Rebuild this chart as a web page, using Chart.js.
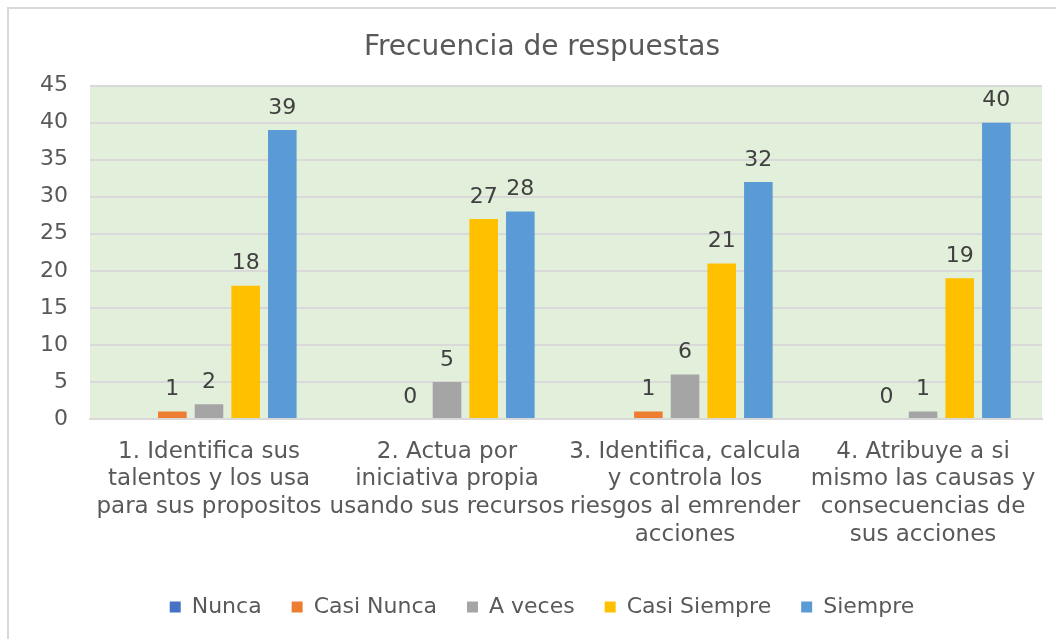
<!DOCTYPE html>
<html>
<head>
<meta charset="utf-8">
<script src="https://cdn.jsdelivr.net/npm/chart.js@4/dist/chart.umd.min.js"></script>
<style>
  html, body { margin: 0; padding: 0; background: #fff; overflow: hidden; }
  #frame { position: absolute; left: 7px; top: 7px; width: 1100px; height: 700px; border: 2px solid #d9d9d9; }
  #myChart { position: absolute; left: 0; top: 0; }
</style>
</head>
<body>
<div id="frame"></div>
<canvas id="myChart" width="1056" height="639"></canvas>
<script>
// data
const categories = [
  ["1. Identifica sus", "talentos y los usa", "para sus propositos"],
  ["2. Actua por", "iniciativa propia", "usando sus recursos"],
  ["3. Identifica, calcula", "y controla los", "riesgos al emrender", "acciones"],
  ["4. Atribuye a si", "mismo las causas y", "consecuencias de", "sus acciones"]
];
const seriesNames = ["Nunca", "Casi Nunca", "A veces", "Casi Siempre", "Siempre"];
const nunca = [null, null, null, null];
const casiNunca = [1, 0, 1, 0];
const aVeces = [2, 5, 6, 1];
const casiSiempre = [18, 27, 21, 19];
const siempre = [39, 28, 32, 40];
const yTicks = [0, 5, 10, 15, 20, 25, 30, 35, 40, 45];

const colors = ["#4472C4", "#ED7D31", "#A5A5A5", "#FFC000", "#5B9BD5"];
const values = [nunca, casiNunca, aVeces, casiSiempre, siempre];
const FONT = "'DejaVu Sans', Verdana, sans-serif";

// green plot background
const plotBg = {
  id: "plotBg",
  beforeDraw(chart) {
    const a = chart.chartArea;
    const ctx = chart.ctx;
    ctx.save();
    ctx.fillStyle = "#E2EFDA";
    ctx.fillRect(a.left, a.top, a.right - a.left, a.bottom - a.top);
    ctx.restore();
  }
};

// value labels above the bars
const barLabels = {
  id: "barLabels",
  afterDatasetsDraw(chart) {
    const ctx = chart.ctx;
    ctx.save();
    ctx.font = "22px " + FONT;
    ctx.fillStyle = "#404040";
    ctx.textAlign = "center";
    ctx.textBaseline = "middle";
    chart.data.datasets.forEach(function(ds, i) {
      chart.getDatasetMeta(i).data.forEach(function(bar, j) {
        const v = ds.data[j];
        if (v === null || v === undefined) return;
        ctx.fillText(String(v), bar.x, bar.y - 22);
      });
    });
    ctx.restore();
  }
};

const ctx = document.getElementById("myChart");
const myChart = new Chart(ctx, {
  type: "bar",
  data: {
    labels: categories,
    datasets: seriesNames.map(function(name, i) {
      return {
        label: name,
        data: values[i],
        backgroundColor: colors[i],
        borderWidth: 0,
        barPercentage: 0.78,
        categoryPercentage: 0.77
      };
    })
  },
  options: {
    responsive: false,
    animation: false,
    devicePixelRatio: 1,
    layout: { padding: { left: 41, right: 13, top: 0, bottom: 11 } },
    plugins: {
      title: {
        display: true,
        text: "Frecuencia de respuestas",
        color: "#595959",
        font: { family: FONT, size: 28, weight: "normal" },
        padding: { top: 31, bottom: 21 }
      },
      legend: {
        position: "bottom",
        labels: {
          color: "#595959",
          font: { family: FONT, size: 22 },
          boxWidth: 11,
          boxHeight: 11,
          padding: 30
        }
      },
      tooltip: { enabled: false }
    },
    scales: {
      x: {
        grid: { display: false, drawTicks: false },
        border: { display: true, color: "#D9D9D9", width: 2 },
        ticks: {
          color: "#595959",
          font: { family: FONT, size: 23, lineHeight: 1.2 },
          padding: 19,
          maxRotation: 0,
          autoSkip: false
        },
        afterFit: function(scale) { scale.height = 147; }
      },
      y: {
        min: 0,
        max: 45,
        afterBuildTicks: function(scale) {
          scale.ticks = yTicks.map(function(v) { return { value: v }; });
        },
        grid: { color: "#D9D9D9", lineWidth: 2, drawTicks: false },
        border: { display: false },
        ticks: {
          color: "#595959",
          font: { family: FONT, size: 22 },
          padding: 22
        },
        afterFit: function(scale) { scale.width = 49; }
      }
    }
  },
  plugins: [plotBg, barLabels]
});
</script>
</body>
</html>
